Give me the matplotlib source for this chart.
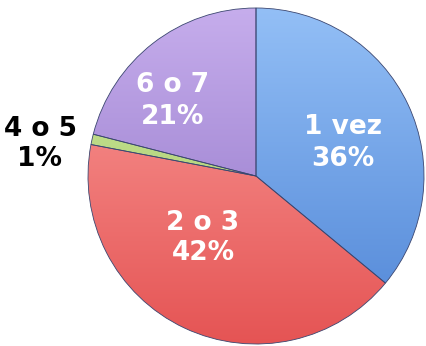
import matplotlib
matplotlib.use("Agg")
import numpy as np
import matplotlib.pyplot as plt
from matplotlib.colors import LinearSegmentedColormap

# Data
labels = ["1 vez", "2 o 3", "4 o 5", "6 o 7"]
values = [36, 42, 1, 21]
colors = ["#6a9ce8", "#ef6d6d", "#b8d87c", "#a58bd6"]
light = ["#93bff6", "#fb9f9c", "#d2eca0", "#c6adec"]
dark = ["#4f85d6", "#e55454", "#9cc060", "#8c70c4"]
text_colors = ["white", "white", "black", "white"]
# label centres in pixel coords (x, y from top)
label_pos = [(343, 143), (203, 238), (40, 144), (173, 101)]

fig = plt.figure(figsize=(4.26, 3.46), dpi=100)
ax = fig.add_axes([0, 0, 1, 1])

cx, cy, r = 256, 346 - 176, 168
wedges, _ = ax.pie(values, colors=colors, startangle=90, counterclock=False,
                   radius=r, center=(cx, cy),
                   wedgeprops=dict(edgecolor="#3b4670", linewidth=0.6))

# vertical gradient shading inside each wedge
grad = np.linspace(0, 1, 256).reshape(-1, 1)
for w, lo, hi in zip(wedges, dark, light):
    cmap = LinearSegmentedColormap.from_list("g", [lo, hi])
    im = ax.imshow(grad, cmap=cmap, origin="lower", aspect="auto",
                   extent=(cx - r, cx + r, cy - r, cy + r), zorder=w.get_zorder())
    im.set_clip_path(w)

for w in wedges:
    w.set_facecolor("none")
    w.set_zorder(3)

for lab, v, c, (x, y) in zip(labels, values, text_colors, label_pos):
    ax.text(x, 346 - y, f"{lab}\n{v}%", ha="center", va="center",
            color=c, fontsize=19, fontweight="bold", linespacing=1.25,
            family="DejaVu Sans", zorder=5)

ax.set_xlim(0, 426)
ax.set_ylim(0, 346)
ax.set_aspect("equal")
ax.axis("off")

plt.savefig("out.png", dpi=100)
